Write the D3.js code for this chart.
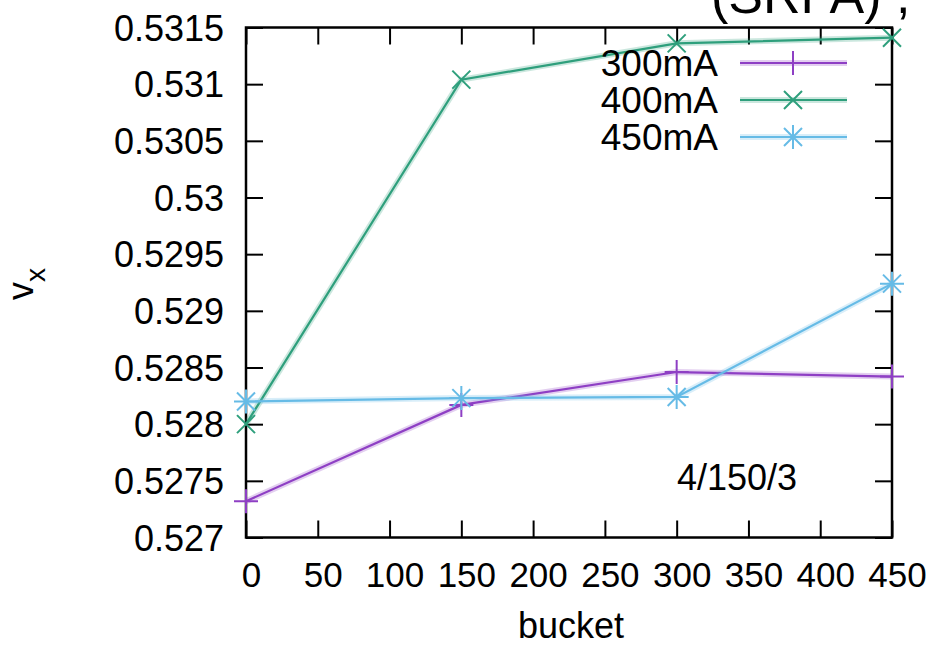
<!DOCTYPE html>
<html>
<head>
<meta charset="utf-8">
<script src="https://cdn.jsdelivr.net/npm/d3@7"></script>
<style>
  html, body { margin: 0; padding: 0; background: #fff; }
  svg { display: block; font-family: "Liberation Sans", Arial, sans-serif; }
</style>
</head>
<body>
<svg id="chart" width="931" height="645"></svg>
<script>
// Horizontal tune per bucket for three beam currents
const buckets = [0, 150, 300, 450];
const seriesNames = ["300mA", "400mA", "450mA"];
const tune300 = [0.52732, 0.52817, 0.52846, 0.52842];
const tune400 = [0.52800, 0.53104, 0.53136, 0.53141];
const tune450 = [0.52820, 0.52823, 0.52824, 0.52924];
const xTicks = [0, 50, 100, 150, 200, 250, 300, 350, 400, 450];
const yTicks = [0.527, 0.5275, 0.528, 0.5285, 0.529, 0.5295, 0.53, 0.5305, 0.531, 0.5315];
const yTickLabels = ["0.527", "0.5275", "0.528", "0.5285", "0.529", "0.5295", "0.53", "0.5305", "0.531", "0.5315"];

const colors = ["#8e3fc4", "#2e9f7c", "#66bbe6"];
const markers = ["plus", "cross", "star"];

const svg = d3.select("#chart");
const plotL = 246, plotR = 892, plotT = 27.5, plotB = 537.5;

const x = d3.scaleLinear().domain([0, 450]).range([plotL, plotR]);
const y = d3.scaleLinear().domain([0.527, 0.5315]).range([plotB, plotT]);

// Title, mostly above the visible area
svg.append("text")
  .attr("x", 711).attr("y", 13)
  .attr("font-size", 52)
  .attr("fill", "#000")
  .text("(SRFA) ,");

// Mirror ticks on all four sides, pointing inward
const tickLen = 17;
const gx = svg.append("g").attr("transform", `translate(0,${plotB})`)
  .call(d3.axisBottom(x).tickValues(xTicks).tickSize(-tickLen).tickFormat(d => d));
const gxTop = svg.append("g").attr("transform", `translate(0,${plotT})`)
  .call(d3.axisTop(x).tickValues(xTicks).tickSize(-tickLen).tickFormat(""));
const gy = svg.append("g").attr("transform", `translate(${plotL},0)`)
  .call(d3.axisLeft(y).tickValues(yTicks).tickSize(-tickLen).tickFormat((d, i) => yTickLabels[i]));
const gyRight = svg.append("g").attr("transform", `translate(${plotR},0)`)
  .call(d3.axisRight(y).tickValues(yTicks).tickSize(-tickLen).tickFormat(""));

[gx, gxTop, gy, gyRight].forEach(g => {
  g.select(".domain").remove();
  g.selectAll(".tick line").attr("stroke", "#000").attr("stroke-width", 2);
});

gx.selectAll(".tick text")
  .attr("y", 49.5).attr("dy", 0).attr("x", 5)
  .attr("font-size", 35).attr("fill", "#000")
  .attr("font-family", "Liberation Sans, Arial, sans-serif");
gy.selectAll(".tick text")
  .attr("x", -22).attr("dy", 12.5)
  .attr("font-size", 36).attr("fill", "#000")
  .attr("font-family", "Liberation Sans, Arial, sans-serif");

// Plot border
svg.append("rect")
  .attr("x", plotL).attr("y", plotT)
  .attr("width", plotR - plotL).attr("height", plotB - plotT)
  .attr("fill", "none").attr("stroke", "#000").attr("stroke-width", 2.5);

// Axis labels
svg.append("text")
  .attr("x", (plotL + plotR) / 2 + 2).attr("y", 638)
  .attr("text-anchor", "middle")
  .attr("font-size", 36).attr("fill", "#000")
  .text("bucket");

const yl = svg.append("text")
  .attr("transform", "translate(33,300) rotate(-90)")
  .attr("font-size", 36).attr("fill", "#000");
yl.append("tspan").text("v");
yl.append("tspan").attr("dy", 12).attr("font-size", 28).text("x");

// Annotation inside the plot
svg.append("text")
  .attr("x", 737).attr("y", 490)
  .attr("text-anchor", "middle")
  .attr("font-size", 36).attr("fill", "#000")
  .text("4/150/3");

function markerPath(kind) {
  const p = d3.path();
  if (kind === "plus" || kind === "star") {
    p.moveTo(-12, 0); p.lineTo(12, 0);
    p.moveTo(0, -12); p.lineTo(0, 12);
  }
  if (kind === "cross" || kind === "star") {
    p.moveTo(-9, -9); p.lineTo(9, 9);
    p.moveTo(-9, 9); p.lineTo(9, -9);
  }
  return p.toString();
}

const allSeries = [tune300, tune400, tune450];
const line = d3.line().x((d, i) => x(buckets[i])).y(d => y(d));

allSeries.forEach((vals, k) => {
  const g = svg.append("g");
  // soft halo under each trace
  g.append("path").datum(vals)
    .attr("d", line).attr("fill", "none")
    .attr("stroke", colors[k]).attr("stroke-opacity", 0.25)
    .attr("stroke-width", 6);
  g.append("path").datum(vals)
    .attr("d", line).attr("fill", "none")
    .attr("stroke", colors[k]).attr("stroke-width", 2.2);
  g.selectAll("path.pt").data(vals).enter().append("path")
    .attr("class", "pt")
    .attr("transform", (d, i) => `translate(${x(buckets[i])},${y(d)})`)
    .attr("d", markerPath(markers[k]))
    .attr("fill", "none").attr("stroke", colors[k]).attr("stroke-width", 2);
});

// Legend
const legY = [63, 100, 137];
seriesNames.forEach((name, k) => {
  svg.append("text")
    .attr("x", 718).attr("y", legY[k] + 13)
    .attr("text-anchor", "end")
    .attr("font-size", 37).attr("fill", "#000")
    .text(name);
  svg.append("line")
    .attr("x1", 740).attr("x2", 847)
    .attr("y1", legY[k]).attr("y2", legY[k])
    .attr("stroke", colors[k]).attr("stroke-opacity", 0.25).attr("stroke-width", 6);
  svg.append("line")
    .attr("x1", 740).attr("x2", 847)
    .attr("y1", legY[k]).attr("y2", legY[k])
    .attr("stroke", colors[k]).attr("stroke-width", 2.2);
  svg.append("path")
    .attr("transform", `translate(793,${legY[k]})`)
    .attr("d", markerPath(markers[k]))
    .attr("fill", "none").attr("stroke", colors[k]).attr("stroke-width", 2);
});
</script>
</body>
</html>
